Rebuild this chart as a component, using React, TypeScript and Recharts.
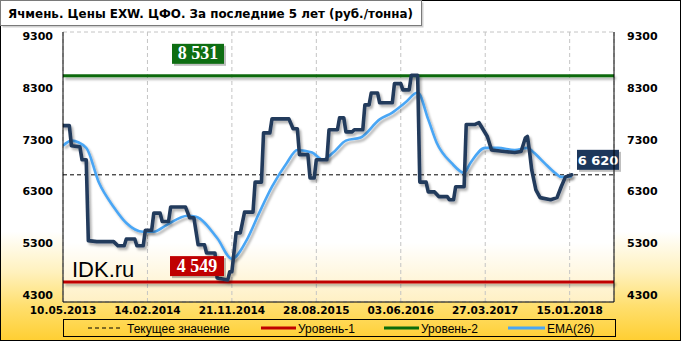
import React from 'react';
import { LineChart, Line, XAxis, YAxis, CartesianGrid, ReferenceLine } from 'recharts';

// ---- data ----
const titleText = 'Ячмень. Цены EXW. ЦФО. За последние 5 лет (руб./тонна)';
const tickWeeks = [0, 40, 80, 120, 160, 200, 240];
const tickLabels = ['10.05.2013', '14.02.2014', '21.11.2014', '28.08.2015', '03.06.2016', '27.03.2017', '15.01.2018'];
const yTicks = [4300, 5300, 6300, 7300, 8300, 9300];

const priceWeeks = [0,3,4,8,9,11,12,16,24,26,29,30,34,35,38,39,42,43,46,47,50,51,58,60,62,64,67,68,72,73,78,79,80,82,84,86,90,91,94,95,98,99,107,109,111,112,116,117,119,120,125,126,130,131,133,134,137,138,142,143,145,146,149,150,156,157,160,161,164,165,168,169,172,173,176,178,182,183,185,186,190,191,195,197,201,203,209,214,217,219,220,221,222,224,226,231,234,236,238,241];
const priceValues = [7570,7570,7180,7160,6910,6910,5350,5330,5330,5250,5250,5380,5380,5250,5250,5550,5550,5880,5880,5720,5720,6000,6000,5790,5790,5270,5270,5110,5110,4630,4590,4750,4750,5500,5500,5900,5900,6480,6480,7430,7430,7700,7700,7510,7510,7010,7010,6560,6560,6910,6910,7490,7490,7720,7720,7450,7450,7490,7490,7970,7970,8200,8200,8010,8010,8380,8380,8260,8260,8540,8540,6480,6480,6290,6290,6200,6200,6140,6140,6390,6390,7590,7590,7630,7360,7100,7070,7050,7070,7330,7360,7070,6720,6330,6180,6140,6180,6390,6580,6620];

const emaWeeks = [0,4,11,17,24,30,38,43,49,59,63,73,80,87,93,99,106,111,118,123,128,134,141,150,156,162,168,173,177,184,190,193,200,206,214,220,223,228,233,236,241];
const emaValues = [7180,7280,7140,6470,6000,5690,5520,5520,5650,5830,5810,5400,5000,5360,5890,6390,6850,7100,7050,6910,7050,7280,7340,7690,7820,8010,8210,7690,7240,6850,6660,6850,7140,7140,7100,7140,7050,6850,6660,6580,6590];

const currentValue = 6620;
const level1 = 4549;
const level2 = 8531;

const legendNames = ['Текущее значение', 'Уровень-1', 'Уровень-2', 'EMA(26)'];

// ---- build table ----
const rowMap = new Map<number, any>();
priceWeeks.forEach((w, i) => {
  const r = rowMap.get(w) || { week: w };
  r.price = priceValues[i];
  rowMap.set(w, r);
});
emaWeeks.forEach((w, i) => {
  const r = rowMap.get(w) || { week: w };
  r.ema = emaValues[i];
  rowMap.set(w, r);
});
const data = Array.from(rowMap.values()).sort((a, b) => a.week - b.week);

const fmt = (v: number) => `${Math.floor(v / 1000)} ${String(v % 1000).padStart(3, '0')}`;

const BoxLabel = (props: any) => {
  const { viewBox, text, fill, dx, dy, w, h, fontFamily, fontSize, right } = props;
  if (!viewBox) return null;
  const bx = right ? viewBox.x + viewBox.width + dx : viewBox.x + dx;
  const by = viewBox.y + dy;
  return (
    <g>
      <rect x={bx + 2} y={by + 2} width={w} height={h} fill="rgba(0,0,0,0.25)" />
      <rect x={bx} y={by} width={w} height={h} fill={fill} />
      <text x={bx + w / 2} y={by + h - 4.5} textAnchor="middle" fill="#fff" fontWeight="bold"
        fontFamily={fontFamily} fontSize={fontSize}>{text}</text>
    </g>
  );
};

const axisTick = { fontFamily: 'DejaVu Sans', fontWeight: 'bold', fontSize: 11, fill: '#000' } as any;

export default function App() {
  return (
    <div style={{ position: 'absolute', left: 0, top: 0, width: 681, height: 341, boxSizing: 'border-box',
      border: '1px solid #000',
      background: 'linear-gradient(to bottom, #ffffff 0%, #ffffff 68%, #fff1bd 80%, #ffdf6e 90%, #ffcf33 100%)',
      fontFamily: 'Liberation Sans' }}>
      <div style={{ position: 'absolute', left: -1, top: -1 }}>
        <LineChart width={681} height={341} data={data} margin={{ top: 32, right: 0, bottom: 0, left: 0 }}>
          <defs>
            <linearGradient id="plotBg" x1="0" y1="0" x2="0" y2="1">
              <stop offset="0%" stopColor="#ffffff" />
              <stop offset="78%" stopColor="#ffffff" />
              <stop offset="100%" stopColor="#fff0c4" />
            </linearGradient>
            <filter id="shadow" filterUnits="userSpaceOnUse" x="0" y="0" width="681" height="341">
              <feDropShadow dx="2" dy="2.5" stdDeviation="1.2" floodColor="#000" floodOpacity="0.3" />
            </filter>
          </defs>
          <CartesianGrid stroke="#c4c4c4" strokeDasharray="4 3" fill="url(#plotBg)" />
          <XAxis dataKey="week" type="number" domain={[0, 261]} ticks={tickWeeks} allowDataOverflow
            tickFormatter={(v: number) => tickLabels[tickWeeks.indexOf(v)] ?? ''}
            height={39} axisLine={{ stroke: '#000' }} tickLine={false} tickSize={0} tickMargin={5}
            tick={{ ...axisTick, fontSize: 10.5 }} interval={0} />
          <XAxis xAxisId="top" orientation="top" dataKey="week" type="number" domain={[0, 261]} height={0}
            tick={false} tickLine={false} axisLine={{ stroke: '#000' }} />
          <YAxis yAxisId="left" domain={[4165, 9377]} ticks={yTicks} allowDataOverflow width={63}
            axisLine={{ stroke: '#000' }} tickLine={false} tickSize={0} tickMargin={10} tick={axisTick} interval={0} />
          <YAxis yAxisId="right" orientation="right" domain={[4165, 9377]} ticks={yTicks} allowDataOverflow width={67}
            axisLine={{ stroke: '#000' }} tickLine={false} tickSize={0} tickMargin={13} tick={{ ...axisTick, textAnchor: 'start' }} interval={0} />
          <ReferenceLine yAxisId="left" y={level2} stroke="#0b6b0b" strokeWidth={3} filter="url(#shadow)" />
          <ReferenceLine yAxisId="left" y={level1} stroke="#c00000" strokeWidth={3} filter="url(#shadow)" />
          <ReferenceLine yAxisId="left" y={currentValue} stroke="#000" strokeDasharray="4 3" strokeWidth={1} />
          <Line yAxisId="left" dataKey="ema" type="monotone" stroke="#4aa6f5" strokeWidth={2.6} dot={false}
            connectNulls isAnimationActive={false} filter="url(#shadow)" />
          <Line yAxisId="left" dataKey="price" type="linear" stroke="#233a5c" strokeWidth={3.6} dot={false}
            connectNulls isAnimationActive={false} strokeLinejoin="round" strokeLinecap="round" filter="url(#shadow)" />
          <ReferenceLine yAxisId="left" y={level2} stroke="none"
            label={<BoxLabel text={fmt(level2)} fill="#0e6e12" dx={109} dy={-32} w={52} h={20}
              fontFamily="Liberation Serif" fontSize={18} />} />
          <ReferenceLine yAxisId="left" y={level1} stroke="none"
            label={<BoxLabel text={fmt(level1)} fill="#c00000" dx={107} dy={-26} w={54} h={20}
              fontFamily="Liberation Serif" fontSize={18} />} />
          <ReferenceLine yAxisId="left" y={currentValue} stroke="none"
            label={<BoxLabel text={fmt(currentValue)} fill="#1d375b" dx={-37} dy={-25} w={42} h={20}
              fontFamily="DejaVu Sans" fontSize={13} right />} />
        </LineChart>
      </div>
      {/* title */}
      <svg style={{ position: 'absolute', left: -1, top: -1 }} width={430} height={32}>
        <rect x={2.5} y={2.5} width={421} height={25} fill="rgba(0,0,0,0.18)" />
        <rect x={0.5} y={0.5} width={421} height={25} fill="#fff" stroke="#7a7a7a" />
        <text x={8} y={18} fontFamily="DejaVu Sans" fontWeight="bold" fontSize={12} fill="#000"
          textLength={405} lengthAdjust="spacingAndGlyphs">{titleText}</text>
      </svg>
      {/* IDK.ru */}
      <div style={{ position: 'absolute', left: 71, top: 256, fontFamily: 'Liberation Sans', fontSize: 22, color: '#000' }}>IDK.ru</div>
      {/* legend */}
      <svg style={{ position: 'absolute', left: -1, top: -1 }} width={681} height={341} pointerEvents="none">
        <rect x={63.5} y={319.5} width={552} height={17} fill="none" stroke="#000" />
        <line x1={88} x2={123} y1={328} y2={328} stroke="#000" strokeDasharray="4 3" />
        <text x={127} y={332.5} fontFamily="Liberation Sans" fontSize={12} fill="#000">{legendNames[0]}</text>
        <line x1={261} x2={296} y1={328} y2={328} stroke="#c00000" strokeWidth={3} />
        <text x={298} y={332.5} fontFamily="Liberation Sans" fontSize={12} fill="#000">{legendNames[1]}</text>
        <line x1={384} x2={419} y1={328} y2={328} stroke="#0b6b0b" strokeWidth={3} />
        <text x={421} y={332.5} fontFamily="Liberation Sans" fontSize={12} fill="#000">{legendNames[2]}</text>
        <line x1={508} x2={545} y1={328} y2={328} stroke="#4aa6f5" strokeWidth={3} />
        <text x={547} y={332.5} fontFamily="Liberation Sans" fontSize={12} fill="#000">{legendNames[3]}</text>
      </svg>
    </div>
  );
}
